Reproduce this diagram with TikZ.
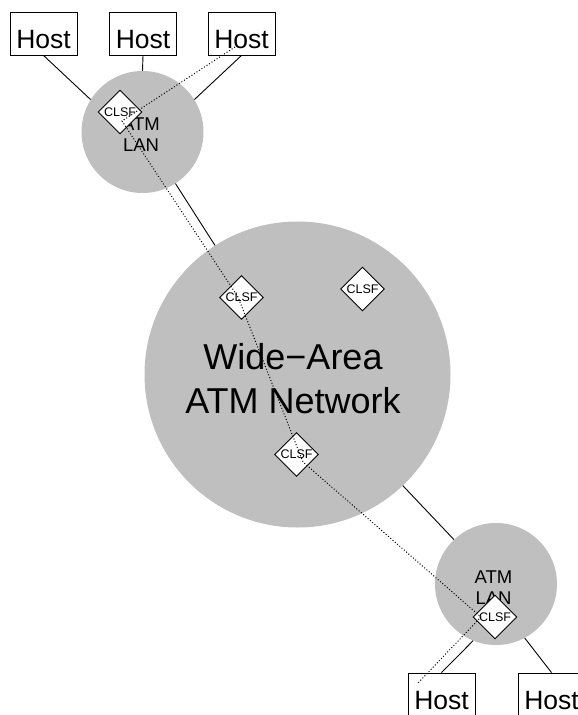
\documentclass[tikz,border=0pt]{standalone}
\usepackage{fontspec}
\setmainfont{Liberation Sans}
\usetikzlibrary{shapes.geometric}
\begin{document}
\begin{tikzpicture}[x=1pt,y=-1pt,
  lan/.style={circle,fill=gray!50,draw=none,minimum size=122pt,inner sep=0pt},
  wanc/.style={circle,fill=gray!50,draw=none,minimum size=306pt,inner sep=0pt},
  host/.style={draw,fill=white,line width=0.9pt,inner sep=0pt,minimum width=67pt,
    text height=36pt,text depth=7pt,font=\fontsize{26.5}{26.5}\selectfont},
  clsf/.style={diamond,draw,fill=white,line width=0.9pt,inner sep=0pt,
    minimum size=44pt,aspect=1,font=\fontsize{12.5}{12.5}\selectfont},
  link/.style={line width=0.9pt},
  vcpath/.style={line width=1pt,dash pattern=on 1pt off 2pt},
  lanlbl/.style={align=center,inner sep=0pt,font=\fontsize{18.5}{21}\selectfont},
  wanlbl/.style={align=center,inner sep=0pt,font=\fontsize{36}{44}\selectfont}
]
\useasboundingbox (0,0) rectangle (578,715);
% clouds
\node[lan] (lanA) at (142.5,132) {};
\node[wanc] (wan) at (297.5,374.5) {};
\node[lan] (lanB) at (496,584) {};
\node[lanlbl] (lanAlbl) at (141,135) {ATM\\LAN};
\node[lanlbl] (lanBlbl) at (493.5,587.5) {ATM\\LAN};
\node[wanlbl] (wanlbl) at (293,379) {Wide−Area\\ATM Network};
% hosts
\node[host] (h1) at (43.5,33.5) {Host};
\node[host] (h2) at (143,33.5) {Host};
\node[host] (h3) at (241.5,33.5) {Host};
\node[host] (h4) at (441.5,694.5) {Host};
\node[host] (h5) at (551.5,694.5) {Host};
% links
\draw[link] (h1.south) -- (lanA.148);
\draw[link] (h2.south) -- (lanA.north);
\draw[link] (h3.south) -- (lanA.32);
\draw[link] (lanA) -- (wan);
\draw[link] (wan) -- (lanB);
\draw[link] (h4.north) -- (lanB.248);
\draw[link] (h5.north) -- (lanB.298);
% CLSF
\node[clsf] (c1) at (120,112) {CLSF};
\node[clsf] (c2) at (241.5,297.5) {CLSF};
\node[clsf] (c3) at (362.5,289) {CLSF};
\node[clsf] (c4) at (296.5,454.5) {CLSF};
\node[clsf] (c5) at (495,617) {CLSF};
% virtual connection
\coordinate (d0) at (235,47);
\coordinate (d1) at (122,121);
\coordinate (d2) at (238,297);
\coordinate (d3) at (303,462);
\coordinate (d4) at (481,617);
\coordinate (d5) at (418,683);
\draw[vcpath] (d0) -- (d1) -- (d2) -- (d3) -- (d4) -- (d5);
\end{tikzpicture}
\end{document}
